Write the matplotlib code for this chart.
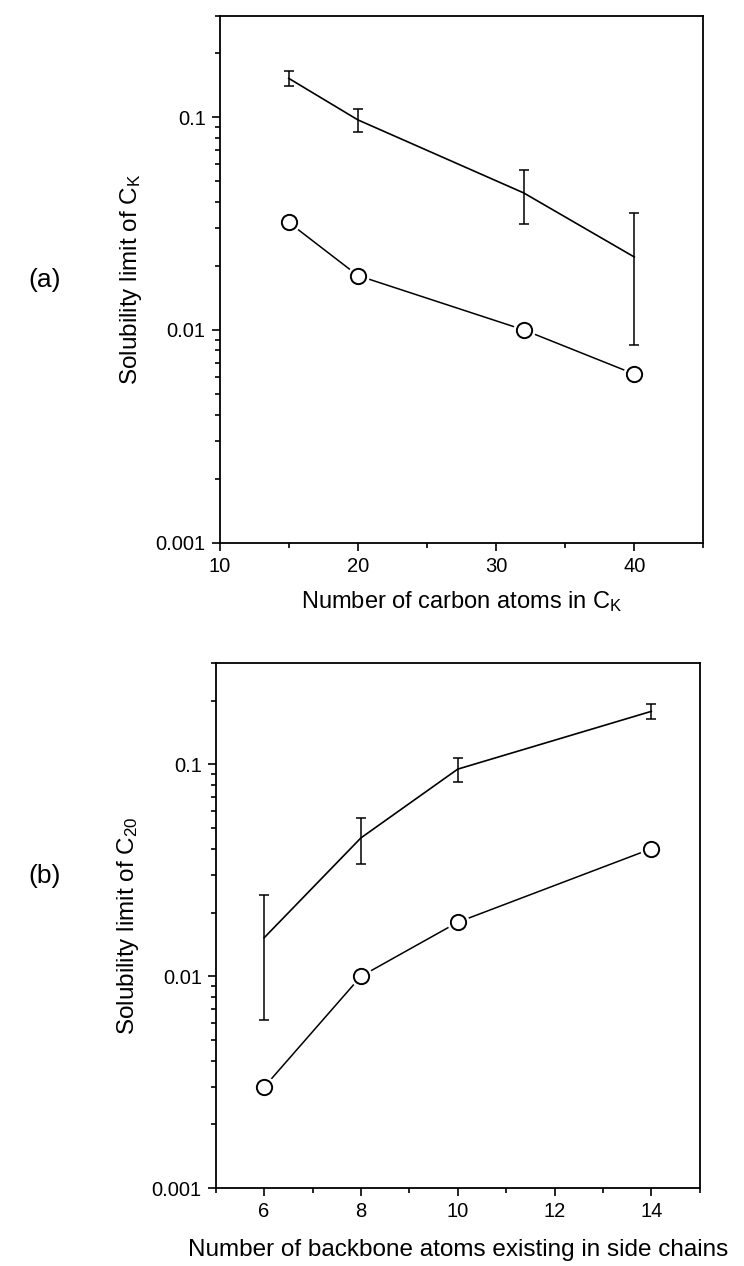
import matplotlib
matplotlib.use('Agg')
import matplotlib.pyplot as plt
from matplotlib.ticker import FixedLocator, LogLocator, NullFormatter, FixedFormatter

plt.rcParams['font.family'] = ['Liberation Sans', 'DejaVu Sans']
plt.rcParams['mathtext.default'] = 'regular'

# (a) solubility limit vs carbon atoms in C_K
carbon_atoms = [15, 20, 32, 40]
limit_a_mean = [0.152, 0.097, 0.044, 0.022]
limit_a_err = [0.012, 0.012, 0.0125, 0.0135]
limit_a_open = [0.032, 0.018, 0.010, 0.0062]

# (b) solubility limit of C20 vs backbone atoms in side chains
backbone_atoms = [6, 8, 10, 14]
limit_b_mean = [0.0152, 0.045, 0.095, 0.178]
limit_b_err = [0.009, 0.011, 0.0125, 0.015]
limit_b_open = [0.003, 0.010, 0.018, 0.040]

W, H = 744, 1266
fig = plt.figure(figsize=(W / 100, H / 100), dpi=100)

ax1 = fig.add_axes([219.6 / W, 1 - 542.7 / H, 483.8 / W, 527.2 / H])
ax2 = fig.add_axes([215.7 / W, 1 - 1188.3 / H, 484.0 / W, 525.0 / H])


def draw_panel(ax, x, mean, err, opn):
    ax.errorbar(x, mean, yerr=err, color='black', lw=1.2, elinewidth=1.1,
                capsize=3.5, capthick=1.1, zorder=2)
    ax.plot(x, opn, color='black', lw=1.1, zorder=2)
    # white halo so the line stops short of the open circles
    ax.plot(x, opn, 'o', ms=15, mfc='white', mec='white', zorder=3)
    ax.plot(x, opn, 'o', ms=11, mfc='white', mec='black', mew=1.4, zorder=4)

    ax.set_yscale('log')
    ax.set_ylim(0.001, 0.3)
    ax.yaxis.set_major_locator(FixedLocator([0.001, 0.01, 0.1]))
    ax.yaxis.set_major_formatter(FixedFormatter(['0.001', '0.01', '0.1']))
    ax.yaxis.set_minor_locator(LogLocator(base=10, subs=range(2, 10)))
    ax.yaxis.set_minor_formatter(NullFormatter())

    for s in ax.spines.values():
        s.set_linewidth(1.3)
    ax.tick_params(which='both', direction='out', top=False, right=False,
                   width=1.2, labelsize=14.5, pad=4)
    ax.tick_params(which='major', length=6)
    ax.tick_params(which='minor', length=3.5)


draw_panel(ax1, carbon_atoms, limit_a_mean, limit_a_err, limit_a_open)
ax1.set_xlim(10, 45)
ax1.xaxis.set_major_locator(FixedLocator([10, 20, 30, 40]))
ax1.xaxis.set_minor_locator(FixedLocator([15, 25, 35, 45]))
ax1.set_xlabel('Number of carbon atoms in C$_{K}$', fontsize=17, labelpad=10)
ax1.set_ylabel('Solubility limit of C$_{K}$', fontsize=17.5, labelpad=8)

draw_panel(ax2, backbone_atoms, limit_b_mean, limit_b_err, limit_b_open)
ax2.set_xlim(5, 15)
ax2.xaxis.set_major_locator(FixedLocator([6, 8, 10, 12, 14]))
ax2.xaxis.set_minor_locator(FixedLocator([5, 7, 9, 11, 13, 15]))
ax2.set_xlabel('Number of backbone atoms existing in side chains', fontsize=17.5,
               labelpad=13)
ax2.set_ylabel('Solubility limit of C$_{20}$', fontsize=17.5, labelpad=8)

fig.text(45 / W, 1 - 280 / H, '(a)', fontsize=19, ha='center', va='center')
fig.text(45 / W, 1 - 876 / H, '(b)', fontsize=19, ha='center', va='center')

fig.savefig('out.png', dpi=100)
